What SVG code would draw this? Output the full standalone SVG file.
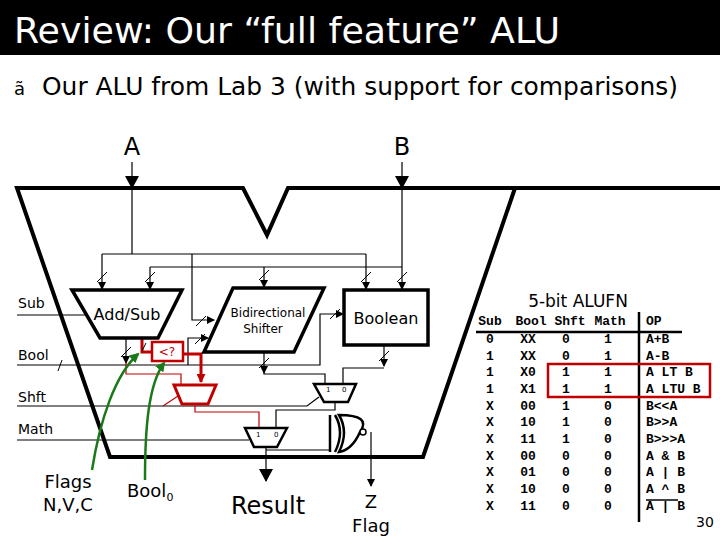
<svg xmlns="http://www.w3.org/2000/svg" width="720" height="540" viewBox="0 0 720 540">
<defs>
<marker id="ah" markerWidth="8" markerHeight="8" refX="7" refY="4" orient="auto" markerUnits="userSpaceOnUse"><path d="M0,0 L8,4 L0,8 z" fill="#000"/></marker>
<marker id="ahb" markerWidth="14" markerHeight="14" refX="12" refY="7" orient="auto" markerUnits="userSpaceOnUse"><path d="M0,0 L13,7 L0,14 z" fill="#000"/></marker>
<marker id="ahr" markerWidth="9" markerHeight="9" refX="8" refY="4.5" orient="auto" markerUnits="userSpaceOnUse"><path d="M0,0 L9,4.5 L0,9 z" fill="#c00000"/></marker>
<marker id="ahg" markerWidth="10" markerHeight="10" refX="8" refY="5" orient="auto" markerUnits="userSpaceOnUse"><path d="M0,0 L10,5 L0,10 z" fill="#1a7a1a"/></marker>
</defs>
<style>
.s{font-family:"DejaVu Sans",Verdana,sans-serif}
.w{fill:none;stroke:#000;stroke-width:1.2}
.k{fill:#fff;stroke:#000;stroke-width:3.5}
.r{fill:none;stroke:#c00000;stroke-width:1.2}
.rt{fill:none;stroke:#c00000;stroke-width:3}
.g{fill:none;stroke:#1a7a1a;stroke-width:2.5}
.t{font-family:"Liberation Mono","Courier New",monospace;font-weight:bold;font-size:13px}
.sl{stroke:#000;stroke-width:1}
</style>
<rect x="0" y="0" width="720" height="55" fill="#000"/>
<text x="14" y="43" class="s" font-size="36" fill="#fff" textLength="546" lengthAdjust="spacingAndGlyphs">Review:  Our “full feature” ALU</text>
<text x="14" y="95" class="s" font-size="18">ã</text>
<text x="42" y="95" class="s" font-size="24" textLength="636" lengthAdjust="spacingAndGlyphs">Our ALU from Lab 3 (with support for comparisons)</text>
<text x="132" y="155" class="s" font-size="24" text-anchor="middle">A</text>
<text x="402" y="155" class="s" font-size="24" text-anchor="middle">B</text>
<g id="outline">
<path d="M720,188 H288 L267,235 L243,188 H17 L110,457 H423 L515,188" fill="none" stroke="#000" stroke-width="4" stroke-linejoin="miter"/>
</g>
<g id="connectors">
<path class="w" d="M132,162 V188" stroke-width="3" marker-end="url(#ahb)"/>
<path class="w" d="M402,162 V188" stroke-width="3" marker-end="url(#ahb)"/>
<path class="w" d="M132,188 V254 M102,254 H366"/>
<path class="w" d="M102,254 V289" marker-end="url(#ah)"/>
<path class="w" d="M366,254 V289" marker-end="url(#ah)"/>
<path class="w" d="M192,254 V320 H214" marker-end="url(#ah)"/>
<path class="w" d="M402,188 V289" marker-end="url(#ah)"/>
<path class="w" d="M150,267 H402"/>
<path class="w" d="M150,267 V289" marker-end="url(#ah)"/>
<path class="w" d="M264,267 V287" marker-end="url(#ah)"/>
<path class="w" d="M126,338 V363" marker-end="url(#ah)"/>
<path class="w" d="M17,365 H320 V314 H343" marker-end="url(#ah)"/>
<path class="w" d="M188,365 V338 H208" marker-end="url(#ah)"/>
<path class="w" d="M264,352 V373" marker-end="url(#ah)"/>
<path class="w" d="M264,373 V374 H325 V384"/>
<path class="w" d="M384,345 V366" marker-end="url(#ah)"/>
<path class="w" d="M343,384 V368 H384"/>
<path class="w" d="M335,402 V410 H276 V428"/>
<path class="w" d="M17,406 H307 L319,397"/>
<path class="w" d="M17,440 H249"/>
<path class="w" d="M266,447 V481" stroke-width="4" marker-end="url(#ahb)"/>
<path class="w" d="M266,450 H330" stroke-width="3"/>
<path class="w" d="M371,432 V486" marker-end="url(#ah)"/>
<path class="w" d="M17,315 H85"/>
<path class="rt" d="M142,338 V352 H151"/>
<path class="rt" d="M183,354 H201 V382" marker-end="url(#ahr)"/>
<path class="r" d="M126,362 V374 H181 V385"/>
<path class="r" d="M195,404 V412 H259 V428"/>
<path class="r" d="M163,406 L178,396"/>
<path class="g" d="M92,470 C100,420 115,375 138,354" marker-end="url(#ahg)"/>
<path class="g" d="M145,480 C145,430 148,385 164,363" marker-end="url(#ahg)"/>
<g class="sl">
<line x1="97" y1="282" x2="107" y2="272"/><line x1="145" y1="282" x2="155" y2="272"/>
<line x1="259" y1="280" x2="269" y2="270"/><line x1="361" y1="282" x2="371" y2="272"/>
<line x1="397" y1="282" x2="407" y2="272"/><line x1="196" y1="326" x2="206" y2="316"/>
<line x1="195" y1="344" x2="205" y2="334"/><line x1="330" y1="319" x2="340" y2="309"/>
<line x1="121" y1="357" x2="131" y2="347"/><line x1="58" y1="371" x2="62" y2="360"/>
<line x1="259" y1="368" x2="269" y2="358"/><line x1="379" y1="361" x2="389" y2="351"/>
<line x1="142" y1="351" x2="146" y2="343"/>
</g>
</g>
<g id="addsub"><path d="M72,290 H182 L158,338 H100 Z" class="k" stroke-width="3"/>
<text x="127" y="320" class="s" font-size="16" text-anchor="middle">Add/Sub</text></g>
<g id="shifter"><path d="M233,288 H324 L294,352 H204 Z" class="k" stroke-width="3"/>
<text x="268" y="317" class="s" font-size="12" text-anchor="middle">Bidirectional</text>
<text x="263" y="333" class="s" font-size="12" text-anchor="middle">Shifter</text></g>
<g id="boolean"><rect x="344" y="290" width="84" height="55" class="k" stroke-width="3"/>
<text x="386" y="324" class="s" font-size="16" text-anchor="middle">Boolean</text></g>
<g id="lt"><rect x="152" y="342" width="31" height="19" fill="#fff" stroke="#c00000" stroke-width="2.5"/>
<text x="167" y="356" class="s" font-size="12" fill="#c00000" text-anchor="middle">&lt;?</text></g>
<g id="redmux"><path d="M174,385 H216 L208,404 H182 Z" fill="#fff" stroke="#c00000" stroke-width="3"/></g>
<g id="mux1"><path d="M314,384 H356 L348,402 H324 Z" fill="#fff" stroke="#000" stroke-width="2.5"/>
<text x="326" y="392" class="s" font-size="7">1</text><text x="342" y="392" class="s" font-size="7">0</text></g>
<g id="mux2"><path d="M245,428 H287 L277,447 H254 Z" fill="#fff" stroke="#000" stroke-width="2.5"/>
<text x="256" y="437" class="s" font-size="7">1</text><text x="274" y="437" class="s" font-size="7">0</text></g>
<g id="xnor"><path d="M335,415 Q345,432 335,452 M339,415 Q372,415 360,432 Q352,450 339,452 Q349,432 339,415 Z" fill="#fff" stroke="#000" stroke-width="2.5"/>
<path d="M330,415 V452" stroke="#000" stroke-width="2.5"/>
<circle cx="363" cy="432" r="3" fill="#fff" stroke="#000" stroke-width="1.5"/></g>
<g id="labels" class="s">
<text x="18" y="308" font-size="14">Sub</text>
<text x="18" y="360" font-size="14">Bool</text>
<text x="18" y="402" font-size="14">Shft</text>
<text x="18" y="434" font-size="14">Math</text>
<text x="68" y="488" font-size="18" text-anchor="middle">Flags</text>
<text x="68" y="511" font-size="18" text-anchor="middle">N,V,C</text>
<text x="127" y="497" font-size="18">Bool<tspan font-size="11" dy="4">0</tspan></text>
<text x="268" y="514" font-size="24" text-anchor="middle">Result</text>
<text x="371" y="508" font-size="18" text-anchor="middle">Z</text>
<text x="371" y="532" font-size="18" text-anchor="middle">Flag</text>
</g>
<g id="table">
<text x="578" y="307" class="s" font-size="17" text-anchor="middle">5-bit ALUFN</text>
<line x1="476" y1="332" x2="682" y2="332" stroke="#000" stroke-width="2.5"/>
<line x1="639" y1="312" x2="639" y2="522" stroke="#000" stroke-width="2.5"/>
<rect x="548" y="364" width="162" height="33" fill="none" stroke="#c00000" stroke-width="2.5"/>
<g class="t" text-anchor="middle">
<text x="490" y="325">Sub</text><text x="531" y="325">Bool</text><text x="570" y="325">Shft</text><text x="610" y="325">Math</text>
<text x="490" y="343">0</text><text x="528" y="343">XX</text><text x="566" y="343">0</text><text x="608" y="343">1</text>
<text x="490" y="360">1</text><text x="528" y="360">XX</text><text x="566" y="360">0</text><text x="608" y="360">1</text>
<text x="490" y="376">1</text><text x="528" y="376">X0</text><text x="566" y="376">1</text><text x="608" y="376">1</text>
<text x="490" y="393">1</text><text x="528" y="393">X1</text><text x="566" y="393">1</text><text x="608" y="393">1</text>
<text x="490" y="410">X</text><text x="528" y="410">00</text><text x="566" y="410">1</text><text x="608" y="410">0</text>
<text x="490" y="426">X</text><text x="528" y="426">10</text><text x="566" y="426">1</text><text x="608" y="426">0</text>
<text x="490" y="443">X</text><text x="528" y="443">11</text><text x="566" y="443">1</text><text x="608" y="443">0</text>
<text x="490" y="460">X</text><text x="528" y="460">00</text><text x="566" y="460">0</text><text x="608" y="460">0</text>
<text x="490" y="476">X</text><text x="528" y="476">01</text><text x="566" y="476">0</text><text x="608" y="476">0</text>
<text x="490" y="493">X</text><text x="528" y="493">10</text><text x="566" y="493">0</text><text x="608" y="493">0</text>
<text x="490" y="510">X</text><text x="528" y="510">11</text><text x="566" y="510">0</text><text x="608" y="510">0</text>
</g>
<g class="t" font-size="12">
<text x="646" y="325">OP</text>
<text x="646" y="343">A+B</text><text x="646" y="360">A-B</text><text x="646" y="376">A LT B</text><text x="646" y="393">A LTU B</text>
<text x="646" y="410">B&lt;&lt;A</text><text x="646" y="426">B&gt;&gt;A</text><text x="646" y="443">B&gt;&gt;&gt;A</text>
<text x="646" y="460">A &amp; B</text><text x="646" y="476">A | B</text><text x="646" y="493">A ^ B</text><text x="646" y="510">A | B</text>
</g>
<line x1="646" y1="500" x2="678" y2="500" stroke="#000" stroke-width="1.5"/>
<text x="705" y="527" class="s" font-size="14" text-anchor="middle">30</text>
</g>
</svg>
